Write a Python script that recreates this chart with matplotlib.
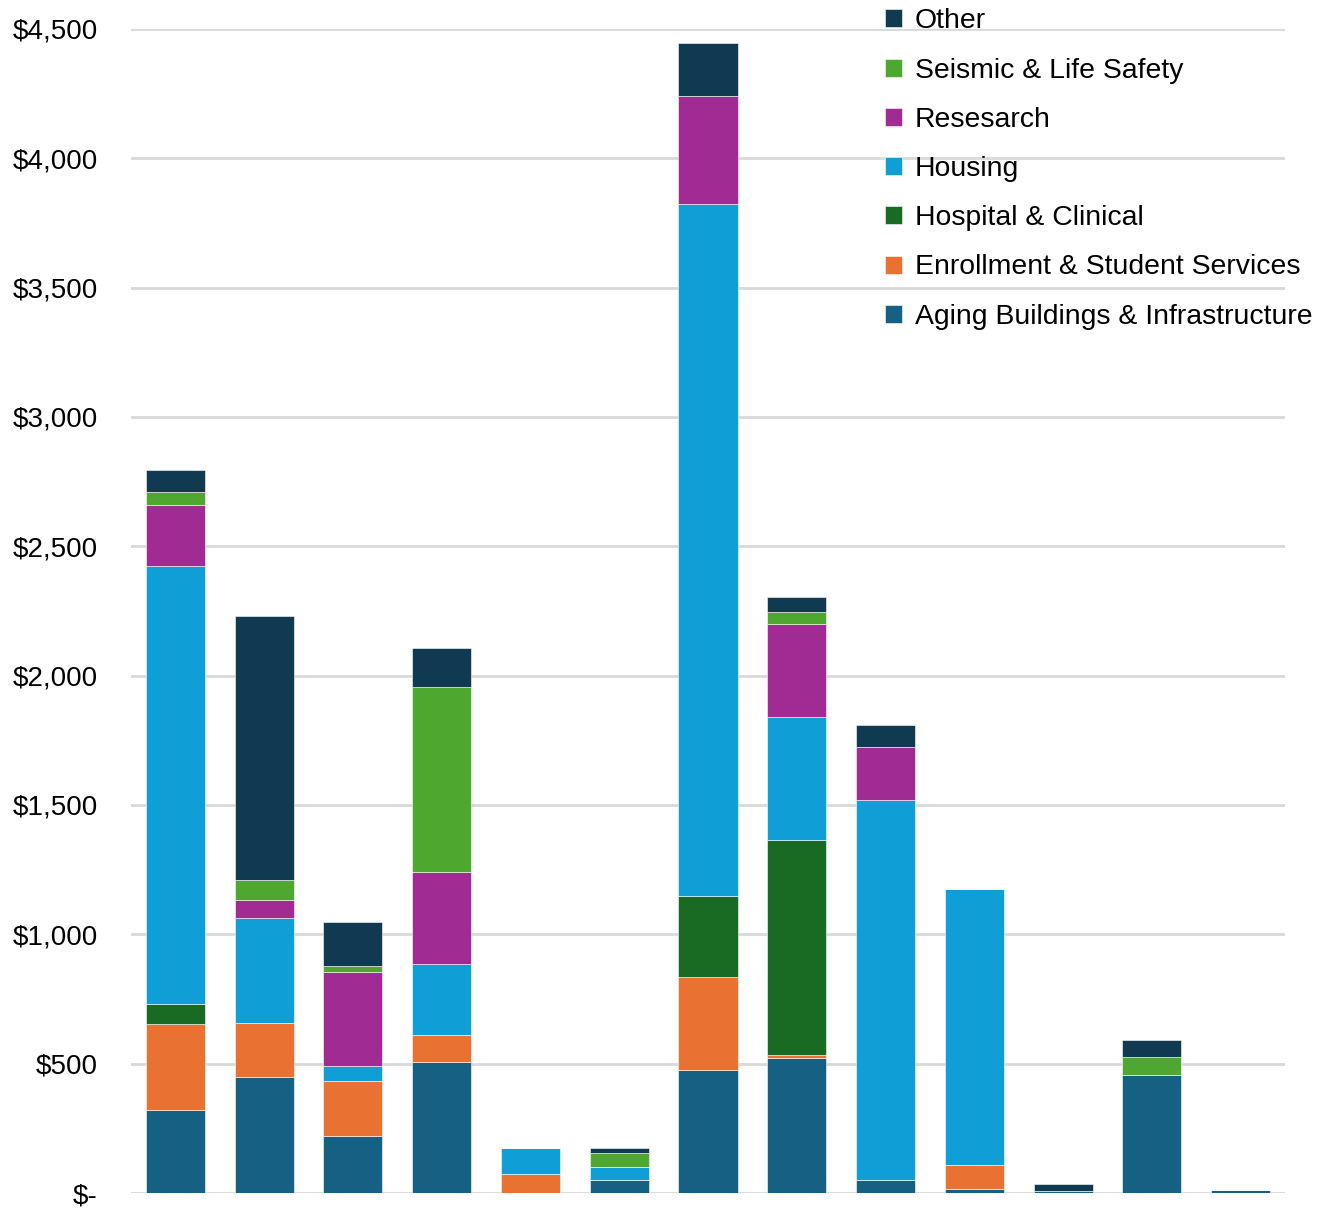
import numpy as np
import matplotlib
matplotlib.use("Agg")
import matplotlib.pyplot as plt
from matplotlib.ticker import FuncFormatter

plt.rcParams['font.family'] = ['Liberation Sans', 'DejaVu Sans']

# capital program by category ($ millions), one bar per campus
n_bars = 13
aging = [321, 448, 220, 506, 0, 50, 475, 523, 50, 15, 8, 456, 10]
enrollment = [332, 209, 213, 105, 75, 0, 360, 10, 0, 93, 0, 0, 0]
hospital = [78, 0, 0, 0, 0, 0, 313, 832, 0, 0, 0, 0, 0]
housing = [1693, 406, 58, 274, 99, 52, 2675, 475, 1469, 1067, 0, 0, 0]
research = [236, 70, 363, 356, 0, 0, 418, 360, 205, 0, 0, 0, 0]
seismic = [50, 77, 23, 715, 0, 51, 0, 46, 0, 0, 0, 70, 0]
other = [85, 1020, 171, 151, 0, 21, 205, 58, 85, 0, 27, 65, 0]

series = [
    ("Aging Buildings & Infrastructure", aging, "#166083"),
    ("Enrollment & Student Services", enrollment, "#E97132"),
    ("Hospital & Clinical", hospital, "#196B24"),
    ("Housing", housing, "#0F9ED5"),
    ("Resesarch", research, "#A02B93"),
    ("Seismic & Life Safety", seismic, "#4EA72E"),
    ("Other", other, "#0F3A51"),
]

fig = plt.figure(figsize=(13.27, 12.08), dpi=100)
ax = fig.add_axes([131 / 1327, 1 - 1193 / 1208, (1285 - 131) / 1327, (1193 - 29) / 1208])

x = np.arange(n_bars)
bottom = np.zeros(n_bars)
handles = []
for name, vals, col in series:
    vals = np.array(vals, dtype=float)
    b = ax.bar(x, vals, width=0.665, bottom=bottom, color=col, label=name,
               edgecolor="white", linewidth=0.4, zorder=3)
    handles.append(b)
    bottom += vals

ax.set_xlim(-0.5, n_bars - 0.5)
ax.set_ylim(0, 4500)
ax.set_yticks(np.arange(0, 4501, 500))
ax.yaxis.set_major_formatter(FuncFormatter(lambda v, p: "$-" if v == 0 else f"${v:,.0f}"))
ax.set_xticks([])
ax.tick_params(axis="y", length=0, pad=24, labelsize=20, labelcolor="#000000")
ax.grid(axis="y", color="#d9d9d9", linewidth=2, zorder=0)
for s in ax.spines.values():
    s.set_visible(False)

leg = fig.legend(handles[::-1], [h.get_label() for h in handles[::-1]],
                 loc="upper left", bbox_to_anchor=(874 / 1327, 1 + 3 / 1208),
                 frameon=False, fontsize=20.4, handlelength=0.6, handleheight=0.6,
                 handletextpad=0.45, labelspacing=0.82, borderaxespad=0)

fig.savefig("out.png", dpi=100, facecolor="white")
